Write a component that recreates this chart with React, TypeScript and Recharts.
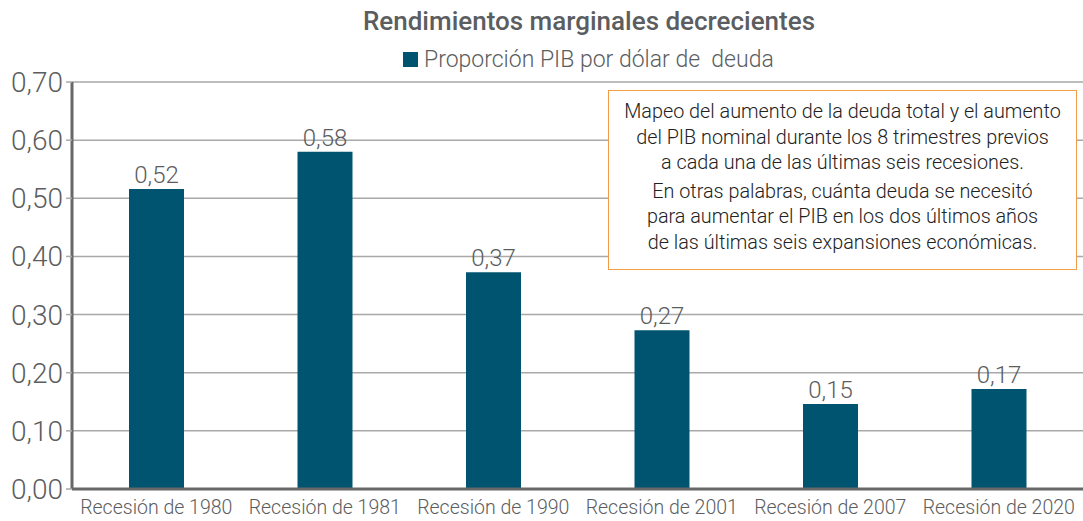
import React from 'react'
import { Bar, BarChart, CartesianGrid, LabelList, XAxis, YAxis } from 'recharts'

const categories = [
  'Recesión de 1980',
  'Recesión de 1981',
  'Recesión de 1990',
  'Recesión de 2001',
  'Recesión de 2007',
  'Recesión de 2020',
]
const ratio = [0.516, 0.58, 0.373, 0.273, 0.146, 0.172]
const yTicks = [0, 0.1, 0.2, 0.3, 0.4, 0.5, 0.6, 0.7]

const data = categories.map((name, i) => ({ name, value: ratio[i] }))

const fmt = (v: number) => v.toFixed(2).replace('.', ',')
const font = 'Roboto, "Liberation Sans", sans-serif'

const App: React.FC = () => {
  return (
    <div style={{ position: 'absolute', left: 0, top: 0, width: 1083, height: 521, fontFamily: font }}>
      <div
        style={{
          position: 'absolute',
          top: 6,
          left: 0,
          width: 1178,
          textAlign: 'center',
          fontSize: 26,
          fontWeight: 500,
          color: '#5b5d60',
        }}
      >
        Rendimientos marginales decrecientes
      </div>
      <div
        style={{
          position: 'absolute',
          top: 46,
          left: 403,
          fontSize: 23,
          fontWeight: 300,
          color: '#5b5d60',
          display: 'flex',
          alignItems: 'center',
        }}
      >
        <span style={{ display: 'inline-block', width: 15, height: 15, background: '#005470', marginRight: 6 }} />
        Proporción PIB por dólar de&nbsp; deuda
      </div>
      <BarChart
        width={1083}
        height={521}
        data={data}
        margin={{ top: 82, right: 0, left: 8, bottom: 0 }}
      >
        <CartesianGrid vertical={false} stroke="#a9a9a9" strokeWidth={1.5} />
        <XAxis
          dataKey="name"
          height={32}
          tickLine={false}
          tickMargin={5}
          axisLine={{ stroke: '#68686b', strokeWidth: 3 }}
          tick={{ fill: '#5b5d60', fontSize: 19.5, fontWeight: 300, fontFamily: font }}
          interval={0}
        />
        <YAxis
          width={64}
          domain={[0, 0.7]}
          ticks={yTicks}
          tickFormatter={fmt}
          tickLine={{ stroke: '#a9a9a9', strokeWidth: 1.5 }}
          tickSize={6}
          tickMargin={3}
          axisLine={{ stroke: '#68686b', strokeWidth: 3 }}
          tick={{ fill: '#5b5d60', fontSize: 28, fontWeight: 300, fontFamily: font }}
        />
        <Bar dataKey="value" fill="#005470" barSize={55} isAnimationActive={false}>
          <LabelList
            dataKey="value"
            position="top"
            offset={6}
            formatter={(v: any) => fmt(Number(v))}
            style={{ fill: '#5b5d60', fontSize: 24, fontWeight: 300, fontFamily: font }}
          />
        </Bar>
      </BarChart>
      <div
        style={{
          position: 'absolute',
          left: 608,
          top: 90,
          width: 469,
          height: 180,
          border: '1.5px solid #f39c45',
          background: '#fff',
          boxSizing: 'border-box',
          textAlign: 'center',
          fontSize: 19.8,
          fontWeight: 300,
          color: '#222',
          lineHeight: '25.5px',
          paddingTop: 8,
          whiteSpace: 'nowrap',
        }}
      >
        <div>Mapeo del aumento de la deuda total y el aumento</div>
        <div>del PIB nominal durante los 8 trimestres previos</div>
        <div>a cada una de las últimas seis recesiones.</div>
        <div style={{ marginTop: 3 }}>En otras palabras, cuánta deuda se necesitó</div>
        <div>para aumentar el PIB en los dos últimos años</div>
        <div>de las últimas seis expansiones económicas.</div>
      </div>
    </div>
  )
}

export default App
